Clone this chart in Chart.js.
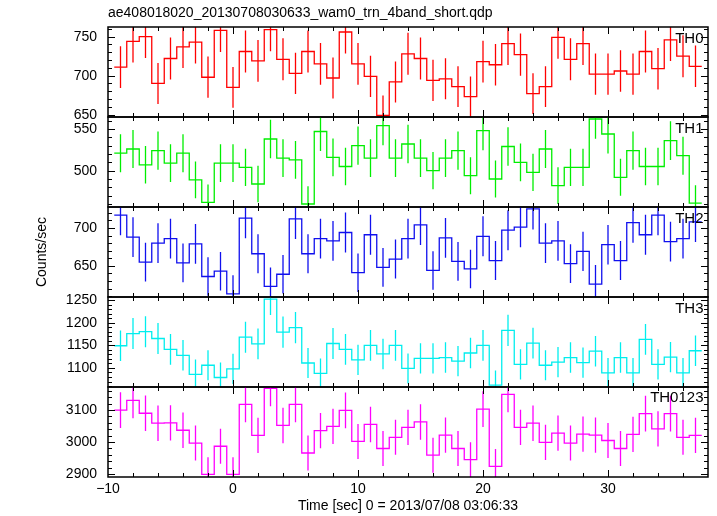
<!DOCTYPE html>
<html><head><meta charset="utf-8">
<script src="https://cdn.jsdelivr.net/npm/chart.js@4.4.0/dist/chart.umd.min.js"></script>
<style>
html,body{margin:0;padding:0;background:#fff;}
#wrap{position:relative;width:717px;height:516px;overflow:hidden;font-family:"Liberation Sans",Arial,Helvetica,sans-serif;color:#000;}
#wrap canvas{position:absolute;left:0;top:0;}
.t{position:absolute;white-space:nowrap;color:#000;}
.pl{font-size:15px;line-height:15px;right:13.5px;}
</style></head><body>
<div id="wrap">
  <canvas id="c0" width="717" height="516"></canvas>
  <canvas id="c1" width="717" height="516"></canvas>
  <canvas id="c2" width="717" height="516"></canvas>
  <canvas id="c3" width="717" height="516"></canvas>
  <canvas id="c4" width="717" height="516"></canvas>
  <div class="t" style="left:108px;top:5px;font-size:14px;line-height:14px;">ae408018020_20130708030633_wam0_trn_4band_short.qdp</div>
  <div class="t" style="left:-19px;top:245px;width:120px;text-align:center;font-size:14px;line-height:14px;transform:rotate(-90deg);">Counts/sec</div>
  <div class="t" style="left:208px;top:498px;width:400px;text-align:center;font-size:14px;line-height:14px;">Time [sec] 0 = 2013/07/08 03:06:33</div>
  <div class="t pl" style="top:30px;">TH0</div>
  <div class="t pl" style="top:120px;">TH1</div>
  <div class="t pl" style="top:210px;">TH2</div>
  <div class="t pl" style="top:300px;">TH3</div>
  <div class="t pl" style="top:389px;">TH0123</div>
</div>
<script>
// ---- data ----
const timeCenters = [-9,-8,-7,-6,-5,-4,-3,-2,-1,0,1,2,3,4,5,6,7,8,9,10,11,12,13,14,15,16,17,18,19,20,21,22,23,24,25,26,27,28,29,30,31,32,33,34,35,36,37];
const th0 = [711,744,750,690,722,737,743,698,758, 685,731,719,759,721,703,731,715,697,756, 715,699,649,692,728,722,694,696,686,673, 718,714,741,727,677,686,749,721,741,702, 702,706,702,731,709,746,725,712];
const th1 = [521,526,507,524,509,521,489,462,509, 509,504,484,538,515,513,460,547,516,505, 530,515,554,515,532,515,500,515,524,494, 548,490,529,510,498,526,482,504,504,562, 544,492,524,505,505,536,518,461];
const th2 = [717,688,655,680,686,654,679,636,643, 613,713,666,623,639,712,666,686,683,694, 641,691,648,659,686,704,644,687,656,646, 689,657,697,701,725,680,683,653,669,626, 678,657,707,691,717,682,686,708];
const th3 = [1149,1176,1180,1165,1141,1128,1086,1106,1079, 1098,1168,1153,1252,1179,1189,1111,1088,1154,1141, 1118,1150,1131,1150,1099,1121,1121,1123,1115,1133, 1150,1062,1183,1108,1155,1106,1113,1123,1112,1137, 1089,1123,1089,1163,1108,1124,1089,1138];
const th0123 = [3100,3130,3090,3059,3060,3037,2997,2899,2987, 2899,3118,3021,3168,3052,3118,2966,3036,3049,3099, 3002,3055,2980,3015,3046,3063,2959,3022,2980,2945, 3103,2924,3149,3046,3059,2999,3028,2997,3025,3022, 3005,2980,3024,3089,3041,3089,3015,3021];
const panelNames = ['TH0','TH1','TH2','TH3','TH0123'];
const yTicks0 = [650,700,750];
const yTicks1 = [500,550];
const yTicks2 = [650,700];
const yTicks3 = [1100,1150,1200,1250];
const yTicks4 = [2900,3000,3100];
const xTicks = [-10,0,10,20,30];

// ---- rendering ----
const series = [th0, th1, th2, th3, th0123];
const yTickSets = [yTicks0, yTicks1, yTicks2, yTicks3, yTicks4];
const colors = ['#ff0000','#00ee00','#1010ee','#00eeee','#ff00ff'];
const yRanges = [[647,762.4],[456.4,564.4],[609,727.6],[1058,1256.6],[2891,3172]];
const yMinor = [10,10,10,10,20];
const yMajor = [50,50,50,50,100];

Chart.defaults.font.family = "'Liberation Sans', Arial, Helvetica, sans-serif";
Chart.defaults.font.size = 14;
Chart.defaults.color = '#000';

const errPlugin = {
  id: 'errBars',
  afterDatasetsDraw(chart) {
    const ds = chart.data.datasets[0];
    const {ctx, chartArea: a} = chart;
    const xs = chart.scales.x, ys = chart.scales.y;
    ctx.save();
    ctx.beginPath(); ctx.rect(a.left, a.top, a.right - a.left, a.bottom - a.top); ctx.clip();
    ctx.strokeStyle = ds.borderColor; ctx.lineWidth = 1.3;
    ctx.beginPath();
    ds.rates.forEach((v, i) => {
      const e = Math.sqrt(v); // Poisson error for 1 s bins
      const px = xs.getPixelForValue(ds.centers[i]);
      ctx.moveTo(px, ys.getPixelForValue(v - e));
      ctx.lineTo(px, ys.getPixelForValue(v + e));
    });
    ctx.stroke();
    ctx.restore();
  }
};

const framePlugin = {
  id: 'frameTicks',
  afterDraw(chart, args, opts) {
    const {ctx, chartArea: a} = chart;
    const xs = chart.scales.x, ys = chart.scales.y;
    ctx.save();
    ctx.strokeStyle = '#000';
    ctx.lineWidth = 1;
    ctx.beginPath();
    for (let t = xs.min + 2; t < xs.max - 1e-6; t += 2) {
      const px = Math.round(xs.getPixelForValue(t)) + 0.5;
      const L = Math.abs(t % 10) < 1e-6 ? 7 : 4;
      ctx.moveTo(px, a.bottom); ctx.lineTo(px, a.bottom - L);
      ctx.moveTo(px, a.top); ctx.lineTo(px, a.top + L);
    }
    const y0 = Math.ceil(ys.min / opts.minor) * opts.minor;
    for (let v = y0; v <= ys.max; v += opts.minor) {
      const py = Math.round(ys.getPixelForValue(v)) + 0.5;
      const L = Math.abs(v % opts.major) < 1e-6 ? 7 : 4;
      ctx.moveTo(a.left, py); ctx.lineTo(a.left + L, py);
      ctx.moveTo(a.right, py); ctx.lineTo(a.right - L, py);
    }
    ctx.stroke();
    ctx.lineWidth = 1.5;
    ctx.strokeRect(a.left, a.top, a.right - a.left, a.bottom - a.top);
    ctx.restore();
  }
};

function stepPoints(times, vals) {
  const pts = [];
  times.forEach((t, i) => { pts.push({x: t - 0.5, y: vals[i]}); pts.push({x: t + 0.5, y: vals[i]}); });
  return pts;
}

for (let i = 0; i < 5; i++) {
  const top = 27 + 90 * i;
  const bottom = top + 90;
  const last = i === 4;
  const xAxisH = 22;
  new Chart(document.getElementById('c' + i), {
    type: 'line',
    data: {
      datasets: [{
        data: stepPoints(timeCenters, series[i]),
        centers: timeCenters,
        rates: series[i],
        borderColor: colors[i],
        borderWidth: 1.3,
        pointRadius: 0,
        tension: 0,
        fill: false
      }]
    },
    options: {
      responsive: false,
      devicePixelRatio: 1,
      animation: false,
      events: [],
      layout: { padding: { left: 0, right: 9, top: top, bottom: last ? (516 - bottom - xAxisH) : (516 - bottom) } },
      plugins: {
        legend: { display: false },
        tooltip: { enabled: false },
        title: { display: false },
        frameTicks: { minor: yMinor[i], major: yMajor[i] }
      },
      scales: {
        x: {
          type: 'linear', min: -10, max: 38,
          display: last,
          grid: { display: false, drawTicks: false },
          border: { display: false },
          afterBuildTicks: s => { s.ticks = xTicks.map(v => ({value: v})); },
          afterFit: s => { if (last) s.height = xAxisH; },
          ticks: {
            padding: 4,
            maxRotation: 0,
            font: { size: 14 },
            callback: v => (v < 0 ? '\u2212' + Math.abs(v) : String(v))
          }
        },
        y: {
          type: 'linear', min: yRanges[i][0], max: yRanges[i][1],
          grid: { display: false, drawTicks: false },
          border: { display: false },
          afterBuildTicks: s => { s.ticks = yTickSets[i].map(v => ({value: v})); },
          afterFit: s => { s.width = 108; },
          ticks: { padding: 11, font: { size: 14 }, callback: v => String(v) }
        }
      }
    },
    plugins: [errPlugin, framePlugin]
  });
}
</script>
</body></html>
